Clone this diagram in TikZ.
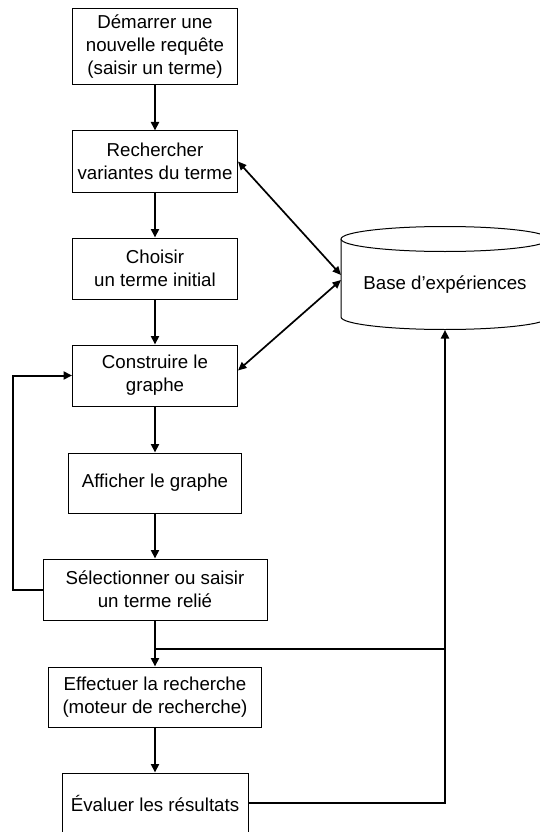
\documentclass[tikz,border=0pt]{standalone}
\usepackage{fontspec}
\setmainfont{Liberation Sans}
\usetikzlibrary{arrows.meta,calc}
\begin{document}
\begin{tikzpicture}[x=1pt,y=-1pt,
  box/.style={draw,line width=1pt,rectangle,inner sep=0pt,align=center,
    font=\fontsize{18.7}{23}\selectfont,fill=white},
  conn/.style={line width=2pt,-{Triangle[length=8.5pt,width=8pt]}},
  dconn/.style={line width=1.7pt,{Triangle[length=8.5pt,width=7.5pt]}-{Triangle[length=8.5pt,width=7.5pt]}},
  plain/.style={line width=2pt}]
\useasboundingbox (0,0) rectangle (540,832);
\fill[white] (0,0) rectangle (540,832);
% boxes
\node[box,minimum width=165pt,minimum height=76pt] (b1) at (155,47) {Démarrer une\\nouvelle requête\\(saisir un terme)};
\node[box,minimum width=165pt,minimum height=61pt] (b2) at (155,161.5) {Rechercher\\variantes du terme};
\node[box,minimum width=165pt,minimum height=61pt] (b3) at (155,268.5) {Choisir\\un terme initial};
\node[box,minimum width=165pt,minimum height=61pt] (b4) at (155,375.5) {Construire le\\graphe};
\node[box,minimum width=173pt,minimum height=60pt] (b5) at (155,483) {Afficher le graphe};
\node[box,minimum width=224pt,minimum height=61pt] (b6) at (155,589.5) {Sélectionner ou saisir\\un terme relié};
\node[box,minimum width=213pt,minimum height=60pt] (b7) at (155,697) {Effectuer la recherche\\(moteur de recherche)};
\node[box,minimum width=186pt,minimum height=60pt] (b8) at (155,803) {Évaluer les résultats};
% cylinder
\draw[line width=1pt,fill=white] (341,239) -- (341,317) arc[start angle=180,end angle=360,x radius=104pt,y radius=12.5pt] -- (549,239);
\draw[line width=1pt,fill=white] (445,239) ellipse[x radius=104pt,y radius=12.5pt];
\node[font=\fontsize{18.7}{23}\selectfont] (db) at (445,285) {Base d’expériences};
\coordinate (dbl1) at (341,275);
\coordinate (dbl2) at (341,280);
\coordinate (dbb) at (445,330);
\coordinate (j) at (155,649);
\coordinate (jr) at (445,649);
% connectors
\draw[conn] (b1) -- (b2);
\draw[conn] (b2) -- (b3);
\draw[conn] (b3) -- (b4);
\draw[conn] (b4) -- (b5);
\draw[conn] (b5) -- (b6);
\draw[conn] (b6) -- (b7);
\draw[conn] (b7) -- (b8);
\draw[conn] (b6.west) -- ++(-30,0) |- (b4.west);
\draw[dconn] (b2.east) -- (dbl1);
\draw[dconn] (dbl2) -- ($(b4.east)+(0,-5)$);
\draw[plain] (j) -- (jr);
\draw[conn] (b8.east) -| (dbb);
\end{tikzpicture}
\end{document}
